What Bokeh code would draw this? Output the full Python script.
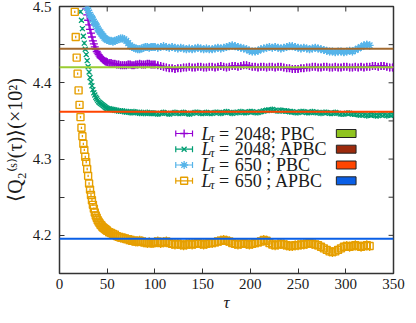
from bokeh.plotting import figure
from bokeh.models import Span, Label, FixedTicker, ColumnDataSource
from bokeh.embed import file_html
from bokeh.resources import INLINE

# ---------------- data ----------------
tau_2048_pbc = list(range(28, 50)) + list(range(50, 100, 2)) + list(range(100, 350, 3))
q_2048_pbc = [
    4.497, 4.489, 4.482, 4.476, 4.470, 4.465, 4.460, 4.455, 4.451, 4.447,
    4.444, 4.441, 4.439, 4.437, 4.435, 4.433, 4.432, 4.431, 4.430, 4.429,
    4.428, 4.428,
    4.427, 4.426, 4.426, 4.425, 4.425, 4.424, 4.424, 4.423, 4.423, 4.423,
    4.423, 4.424, 4.424, 4.423, 4.423, 4.424, 4.424, 4.425, 4.424, 4.424,
    4.424, 4.425, 4.425, 4.424, 4.424,
    4.424, 4.423, 4.422, 4.421, 4.420, 4.419, 4.419, 4.418, 4.419, 4.419,
    4.420, 4.420, 4.421, 4.420, 4.420, 4.421, 4.421, 4.420, 4.420, 4.421,
    4.421, 4.420, 4.421, 4.422, 4.421, 4.420, 4.421, 4.422, 4.422, 4.421,
    4.422, 4.423, 4.423, 4.422, 4.421, 4.421, 4.420, 4.421, 4.421, 4.420,
    4.421, 4.421, 4.420, 4.421, 4.421, 4.420, 4.419, 4.419, 4.418, 4.418,
    4.418, 4.419, 4.419, 4.420, 4.420, 4.421, 4.421, 4.420, 4.420, 4.421,
    4.421, 4.420, 4.420, 4.421, 4.420, 4.420, 4.421, 4.421, 4.420, 4.420,
    4.421, 4.420, 4.421, 4.420, 4.421, 4.421, 4.422, 4.422, 4.421, 4.422,
    4.422, 4.421, 4.420, 4.420,
]

tau_2048_apbc = list(range(22, 50)) + list(range(50, 100, 2)) + list(range(100, 350, 3))
q_2048_apbc = [
    4.493, 4.482, 4.471, 4.461, 4.452, 4.444, 4.437, 4.429, 4.421, 4.414,
    4.407, 4.401, 4.396, 4.391, 4.387, 4.384, 4.381, 4.379, 4.377, 4.375,
    4.374, 4.373, 4.372, 4.371, 4.370, 4.369, 4.368, 4.367,
    4.366, 4.366, 4.365, 4.365, 4.364, 4.364, 4.363, 4.363, 4.363, 4.362,
    4.362, 4.362, 4.361, 4.361, 4.362, 4.361, 4.361, 4.360, 4.361, 4.360,
    4.360, 4.361, 4.360, 4.360, 4.360,
    4.360, 4.359, 4.360, 4.361, 4.360, 4.359, 4.360, 4.361, 4.360, 4.360,
    4.361, 4.360, 4.359, 4.360, 4.361, 4.361, 4.360, 4.360, 4.361, 4.360,
    4.360, 4.361, 4.361, 4.360, 4.361, 4.362, 4.361, 4.360, 4.361, 4.361,
    4.362, 4.361, 4.361, 4.362, 4.362, 4.361, 4.361, 4.362, 4.363, 4.364,
    4.364, 4.365, 4.364, 4.363, 4.364, 4.363, 4.363, 4.362, 4.362, 4.361,
    4.361, 4.362, 4.362, 4.361, 4.361, 4.362, 4.361, 4.361, 4.360, 4.361,
    4.361, 4.360, 4.360, 4.361, 4.360, 4.359, 4.359, 4.360, 4.360, 4.359,
    4.359, 4.358, 4.358, 4.358, 4.357, 4.358, 4.358, 4.357, 4.357, 4.358,
    4.358, 4.357, 4.358, 4.358,
]

tau_650_pbc = list(range(29, 50)) + list(range(50, 100, 2)) + list(range(100, 326, 3))
q_650_pbc = [
    4.498, 4.495, 4.492, 4.489, 4.487, 4.485, 4.483, 4.480, 4.478, 4.476,
    4.474, 4.471, 4.469, 4.467, 4.466, 4.464, 4.462, 4.461, 4.459, 4.458,
    4.457,
    4.456, 4.455, 4.455, 4.454, 4.455, 4.456, 4.457, 4.458, 4.458, 4.457,
    4.455, 4.452, 4.449, 4.447, 4.446, 4.445, 4.444, 4.444, 4.445, 4.446,
    4.447, 4.447, 4.446, 4.447, 4.447,
    4.447, 4.446, 4.447, 4.448, 4.447, 4.446, 4.447, 4.446, 4.445, 4.446,
    4.445, 4.444, 4.445, 4.444, 4.445, 4.446, 4.445, 4.444, 4.445, 4.444,
    4.444, 4.445, 4.446, 4.445, 4.446, 4.447, 4.448, 4.449, 4.448, 4.447,
    4.446, 4.445, 4.444, 4.442, 4.441, 4.441, 4.442, 4.444, 4.445, 4.446,
    4.447, 4.446, 4.447, 4.446, 4.445, 4.446, 4.447, 4.448, 4.448, 4.447,
    4.446, 4.445, 4.446, 4.445, 4.444, 4.445, 4.446, 4.445, 4.444, 4.443,
    4.442, 4.441, 4.441, 4.440, 4.441, 4.441, 4.440, 4.441, 4.442, 4.441,
    4.443, 4.445, 4.447, 4.449, 4.450, 4.449,
]

tau_650_apbc = list(range(16, 50)) + list(range(50, 100, 2)) + list(range(100, 326, 3))
q_650_apbc = [
    4.493, 4.460, 4.433, 4.412, 4.390, 4.371, 4.355, 4.341, 4.330, 4.320,
    4.312, 4.303, 4.296, 4.287, 4.278, 4.268, 4.260, 4.253, 4.246, 4.240,
    4.235, 4.230, 4.226, 4.223, 4.220, 4.218, 4.216, 4.214, 4.213, 4.211,
    4.210, 4.209, 4.208, 4.207,
    4.206, 4.204, 4.203, 4.202, 4.201, 4.199, 4.198, 4.197, 4.197, 4.196,
    4.195, 4.195, 4.194, 4.193, 4.193, 4.192, 4.192, 4.193, 4.192, 4.191,
    4.191, 4.190, 4.191, 4.190, 4.190,
    4.191, 4.192, 4.190, 4.191, 4.192, 4.190, 4.189, 4.188, 4.189, 4.188,
    4.187, 4.188, 4.189, 4.188, 4.189, 4.190, 4.189, 4.188, 4.189, 4.190,
    4.190, 4.191, 4.192, 4.193, 4.194, 4.193, 4.192, 4.190, 4.189, 4.188,
    4.189, 4.190, 4.189, 4.188, 4.189, 4.190, 4.191, 4.192, 4.194, 4.193,
    4.190, 4.188, 4.187, 4.188, 4.189, 4.188, 4.187, 4.186, 4.186, 4.187,
    4.187, 4.188, 4.188, 4.189, 4.190, 4.189, 4.188, 4.187, 4.185, 4.183,
    4.181, 4.179, 4.178, 4.179, 4.181, 4.183, 4.185, 4.186, 4.185, 4.186,
    4.187, 4.186, 4.185, 4.186, 4.187, 4.186,
]

# error-bar half widths: (early transient tau < 50, later tau >= 50)
err_2048_pbc = (0.002, 0.005)
err_2048_apbc = (0.002, 0.004)
err_650_pbc = (0.002, 0.005)
err_650_apbc = (0.0015, 0.0065)

series_labels = ["2048; PBC", "2048; APBC", "650  ; PBC", "650  ; APBC"]

# reference (extrapolated) levels drawn as horizontal lines
ref_levels = [4.4445, 4.4205, 4.3620, 4.1955]
ref_line_colors = ["#a2692e", "#9acd32", "#ff4500", "#0a5fe6"]
box_colors = ["#8fc31f", "#9c2a0c", "#ff4500", "#0a5fe6"]

x_ticks = [0, 50, 100, 150, 200, 250, 300, 350]
y_ticks = [4.15, 4.2, 4.25, 4.3, 4.35, 4.4, 4.45, 4.5]
y_tick_labels = {4.15: "", 4.2: "4.2", 4.25: "", 4.3: "4.3", 4.35: "", 4.4: "4.4", 4.45: "", 4.5: "4.5"}

for t, q in ((tau_2048_pbc, q_2048_pbc), (tau_2048_apbc, q_2048_apbc),
             (tau_650_pbc, q_650_pbc), (tau_650_apbc, q_650_apbc)):
    assert len(t) == len(q), (len(t), len(q))

# ---------------- figure ----------------
X0, X1, Y0, Y1 = 0, 350, 4.15, 4.5
FONT = "Liberation Serif"
INK = "#1a1a1a"
FRAME = "#333333"

p = figure(width=405, height=333, x_range=(X0, X1), y_range=(Y0, Y1),
           output_backend="svg", toolbar_location=None,
           min_border_left=54, min_border_right=12, min_border_top=24, min_border_bottom=42)
p.styles = {"margin-top": "-18px"}
p.grid.visible = False
p.background_fill_color = "white"
p.border_fill_color = "white"
p.outline_line_color = FRAME
p.outline_line_width = 1.5

for ax in (p.xaxis[0], p.yaxis[0]):
    ax.axis_line_color = None
    ax.major_tick_in = 5
    ax.major_tick_out = 0
    ax.minor_tick_in = 0
    ax.minor_tick_out = 0
    ax.major_tick_line_color = FRAME
    ax.major_label_text_font = FONT
    ax.major_label_text_font_size = "15px"
    ax.major_label_text_color = INK
    ax.axis_label_text_font = FONT
    ax.axis_label_text_color = INK

p.xaxis.ticker = FixedTicker(ticks=x_ticks)
p.yaxis.ticker = FixedTicker(ticks=y_ticks)
p.yaxis.major_label_overrides = {k: v for k, v in y_tick_labels.items()}
p.xaxis.major_label_standoff = 5
p.yaxis.major_label_standoff = 8

p.xaxis.axis_label = "τ"
p.xaxis.axis_label_text_font_style = "italic"
p.xaxis.axis_label_text_font_size = "17px"
p.xaxis.axis_label_standoff = 1
p.yaxis.axis_label = "⟨Q₂⁽ˢ⁾(τ)⟩(×10²)"
p.yaxis.axis_label_text_font_style = "normal"
p.yaxis.axis_label_text_font_size = "20px"
p.yaxis.axis_label_standoff = 4

FL, FT, FW, FH = 62, 14, 339, 267  # frame in page pixels


def xd(px):
    return X0 + (px - FL) / FW * (X1 - X0)


def yd(py):
    return Y1 - (py - FT) / FH * (Y1 - Y0)


# mirrored inward ticks on top and right edges (gnuplot style)
p.segment(x0=x_ticks, y0=[Y1] * len(x_ticks), x1=x_ticks, y1=[yd(FT + 5)] * len(x_ticks),
          line_color=FRAME, line_width=1)
p.segment(x0=[X1] * len(y_ticks), y0=y_ticks, x1=[xd(FL + FW - 5)] * len(y_ticks), y1=y_ticks,
          line_color=FRAME, line_width=1)

colors = ["#9400d3", "#009e73", "#56b4e9", "#e69f00"]
markers = ["cross", "x", "asterisk", "square"]
sizes = [8, 7, 8, 7]
data = [(tau_2048_pbc, q_2048_pbc, err_2048_pbc), (tau_2048_apbc, q_2048_apbc, err_2048_apbc),
        (tau_650_pbc, q_650_pbc, err_650_pbc), (tau_650_apbc, q_650_apbc, err_650_apbc)]

for (t, q, e), c, m, s in zip(data, colors, markers, sizes):
    ee = [e[0] if ti < 50 else e[1] for ti in t]
    src = ColumnDataSource(dict(t=t, q=q, lo=[v - d for v, d in zip(q, ee)],
                                hi=[v + d for v, d in zip(q, ee)]))
    p.segment(x0="t", y0="lo", x1="t", y1="hi", source=src, line_color=c, line_width=1.3)
    if m == "square":
        p.scatter(x="t", y="q", source=src, marker=m, size=s, line_color=c,
                  fill_color=None, line_width=1.4)
    else:
        p.scatter(x="t", y="q", source=src, marker=m, size=s, line_color=c, line_width=1.3)

for lvl, c in zip(ref_levels, ref_line_colors):
    p.add_layout(Span(location=lvl, dimension="width", line_color=c, line_width=2))

# ---------------- legend (hand-built, gnuplot style) ----------------
row_px = [141, 156.7, 172.5, 188.3]
for i, (lab, c, m, s) in enumerate(zip(series_labels, colors, markers, sizes)):
    ry = row_px[i]
    p.segment(x0=[xd(180)], y0=[yd(ry)], x1=[xd(197)], y1=[yd(ry)], line_color=c, line_width=1.2)
    p.segment(x0=[xd(180), xd(197)], y0=[yd(ry - 3)] * 2, x1=[xd(180), xd(197)],
              y1=[yd(ry + 3)] * 2, line_color=c, line_width=1.2)
    if m == "square":
        p.scatter(x=[xd(188.5)], y=[yd(ry)], marker=m, size=s, line_color=c,
                  fill_color=None, line_width=1.4)
    else:
        p.scatter(x=[xd(188.5)], y=[yd(ry)], marker=m, size=s, line_color=c, line_width=1.3)
    p.add_layout(Label(x=xd(206), y=yd(ry), text="L", text_font=FONT, text_font_style="italic",
                       text_font_size="18px", text_color=INK, text_baseline="middle"))
    p.add_layout(Label(x=xd(215), y=yd(ry + 4), text="τ", text_font=FONT, text_font_style="italic",
                       text_font_size="12px", text_color=INK, text_baseline="middle"))
    p.add_layout(Label(x=xd(224), y=yd(ry), text="=", text_font=FONT,
                       text_font_size="18px", text_color=INK, text_baseline="middle"))
    p.add_layout(Label(x=xd(240), y=yd(ry), text=lab, text_font=FONT,
                       text_font_size="18px", text_color=INK, text_baseline="middle"))
    p.quad(left=[xd(343)], right=[xd(363)], top=[yd(ry - 4)], bottom=[yd(ry + 4)],
           fill_color=box_colors[i], line_color="#222222", line_width=1)

open("out.html", "w").write(file_html(p, INLINE))
